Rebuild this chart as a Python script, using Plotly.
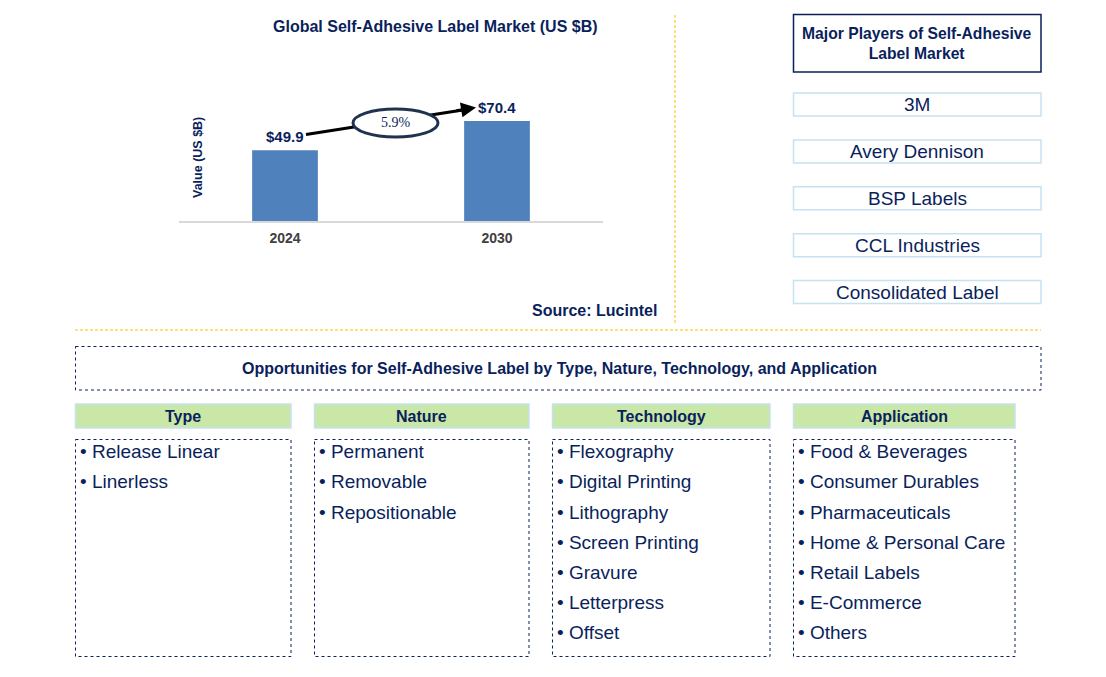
import plotly.graph_objects as go

W, H = 1106, 677
NAVY = "#0A1F5C"
FONT = "Arial, Liberation Sans, sans-serif"

# ---- data ----
years = ["2024", "2030"]
values = [49.9, 70.4]
value_labels = ["$49.9", "$70.4"]
cagr_label = "5.9%"
chart_title = "Global Self-Adhesive Label Market (US $B)"
y_title = "Value (US $B)"
source = "Source: Lucintel"

players_title = "Major Players of Self-Adhesive<br>Label Market"
players = ["3M", "Avery Dennison", "BSP Labels", "CCL Industries", "Consolidated Label"]

opp_title = "Opportunities for Self-Adhesive Label by Type, Nature, Technology, and Application"
seg_headers = ["Type", "Nature", "Technology", "Application"]
seg_type = ["Release Linear", "Linerless"]
seg_nature = ["Permanent", "Removable", "Repositionable"]
seg_tech = ["Flexography", "Digital Printing", "Lithography", "Screen Printing", "Gravure", "Letterpress", "Offset"]
seg_app = ["Food & Beverages", "Consumer Durables", "Pharmaceuticals", "Home & Personal Care",
           "Retail Labels", "E-Commerce", "Others"]
seg_items = [seg_type, seg_nature, seg_tech, seg_app]


def X(x):
    return x / W


def Y(y):
    return 1 - y / H


def txt(x, y, text, size, color=NAVY, family=FONT, xanchor="center", **kw):
    return dict(x=X(x), y=Y(y), xref="paper", yref="paper", text=text, showarrow=False,
                xanchor=xanchor, yanchor="middle", font=dict(size=size, color=color, family=family), **kw)


fig = go.Figure()
fig.add_trace(go.Bar(
    x=years, y=values, width=0.31,
    marker=dict(color="#4F81BD", line=dict(width=0)),
    hoverinfo="skip",
))

shapes = []
ann = []

# value labels (category index positions)
for i, (v, lab) in enumerate(zip(values, value_labels)):
    ann.append(dict(x=i, y=v, xref="x", yref="y", text=f"<b>{lab}</b>", showarrow=False,
                    xanchor="center", yanchor="bottom", yshift=3,
                    font=dict(size=15, color=NAVY, family=FONT)))

# CAGR arrow line + ellipse
shapes.append(dict(type="line", xref="paper", yref="paper", x0=X(306), y0=Y(134.5), x1=X(466), y1=Y(109.5),
                   line=dict(color="black", width=3)))
shapes.append(dict(type="circle", xref="paper", yref="paper", x0=X(353), y0=Y(109), x1=X(438), y1=Y(137),
                   line=dict(color="#1F3350", width=3), fillcolor="white"))
ann.append(dict(x=X(476), y=Y(107.5), xref="paper", yref="paper", ax=-21, ay=3.5,
                axref="pixel", ayref="pixel", text="", showarrow=True, arrowhead=2, arrowsize=1,
                arrowwidth=3, arrowcolor="black"))
ann.append(txt(395.5, 122.5, cagr_label, 14, family="Times New Roman, Liberation Serif, serif"))

# title, y title, source
ann.append(txt(435, 26, f"<b>{chart_title}</b>", 16))
ann.append(txt(198, 157, f"<b>{y_title}</b>", 12.5, textangle=-90))
ann.append(txt(594, 310, f"<b>{source}</b>", 16))

# yellow dashed separators
shapes.append(dict(type="line", xref="paper", yref="paper", x0=X(675), y0=Y(15), x1=X(675), y1=Y(325),
                   line=dict(color="#FFC000", width=1, dash="3px,2px")))
shapes.append(dict(type="line", xref="paper", yref="paper", x0=X(75), y0=Y(330), x1=X(1041), y1=Y(330),
                   line=dict(color="#FFC000", width=1, dash="3px,2px")))

# major players
shapes.append(dict(type="rect", xref="paper", yref="paper", x0=X(793.5), y0=Y(14.5), x1=X(1041), y1=Y(72),
                   line=dict(color=NAVY, width=1.5)))
ann.append(txt(917, 43, f"<b>{players_title}</b>", 15.7))
for i, p in enumerate(players):
    cy = 104.5 + i * 46.9
    shapes.append(dict(type="rect", xref="paper", yref="paper", x0=X(793.5), y0=Y(cy - 11.5),
                       x1=X(1041), y1=Y(cy + 11.5), line=dict(color="#C6E2F2", width=1.5)))
    ann.append(txt(917, cy, p, 19))

# opportunities box
shapes.append(dict(type="rect", xref="paper", yref="paper", x0=X(75.5), y0=Y(346.5), x1=X(1041), y1=Y(390),
                   line=dict(color=NAVY, width=1, dash="dot")))
ann.append(txt(559, 368, f"<b>{opp_title}</b>", 16))

cols = [(75.5, 291), (314.5, 529), (552.5, 770), (793.5, 1015)]
for (x0, x1), hdr, items in zip(cols, seg_headers, seg_items):
    shapes.append(dict(type="rect", xref="paper", yref="paper", x0=X(x0), y0=Y(404), x1=X(x1), y1=Y(428),
                       line=dict(color="#C6E2F2", width=1.5), fillcolor="#C9E7A7"))
    ann.append(txt((x0 + x1) / 2, 416, f"<b>{hdr}</b>", 16))
    shapes.append(dict(type="rect", xref="paper", yref="paper", x0=X(x0), y0=Y(439.5), x1=X(x1), y1=Y(656.5),
                       line=dict(color=NAVY, width=1, dash="dot")))
    for j, it in enumerate(items):
        ann.append(txt(x0 + 2, 452 + j * 30, f"• {it}", 19, xanchor="left"))

fig.update_layout(
    width=W, height=H, margin=dict(l=0, r=0, t=0, b=0),
    paper_bgcolor="white", plot_bgcolor="white", showlegend=False,
    xaxis=dict(domain=[X(179), X(603)], range=[-0.5, 1.5], type="category", showgrid=False,
               showline=True, linecolor="#D9D9D9", linewidth=1.5, ticks="", zeroline=False,
               ticklabelstandoff=3,
               tickfont=dict(size=14, color="#404040", family=FONT, weight="bold"), fixedrange=True),
    yaxis=dict(domain=[Y(221), Y(79)], range=[0, 100], showgrid=False, showticklabels=False,
               zeroline=False, showline=False, fixedrange=True),
    shapes=shapes, annotations=ann,
)

fig.write_html("out.html", config={"displayModeBar": False},
               post_script="document.body.style.margin='0';document.body.style.overflow='hidden';")
